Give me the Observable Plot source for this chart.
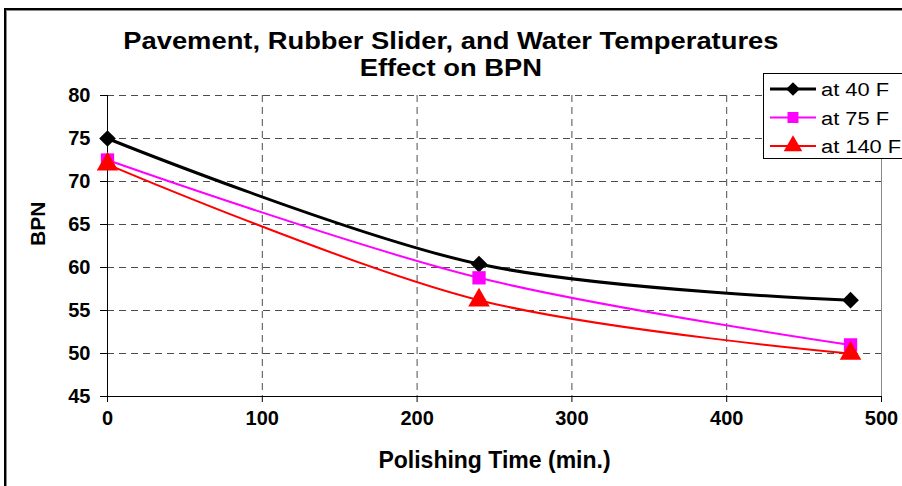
<!DOCTYPE html>
<html>
<head>
<meta charset="utf-8">
<script src="https://cdn.jsdelivr.net/npm/d3@7"></script>
<script src="https://cdn.jsdelivr.net/npm/@observablehq/plot@0.6"></script>
<style>
  body { margin: 0; background: #fff; font-family: "Liberation Sans", Arial, sans-serif; }
  #wrap { position: relative; width: 902px; height: 486px; overflow: hidden; background: #fff; }
  #frame { position: absolute; left: 4px; top: 8px; width: 1000px; height: 600px; border-left: 2px solid #000; border-top: 2px solid #000; box-shadow: inset 1px 1px 0 #888; }
  #title { position: absolute; left: 0; width: 902px; top: 27px; text-align: center; font-weight: bold; font-size: 24px; line-height: 27px; color: #000; transform: scaleX(1.14); transform-origin: 452px 0; }
  #chart { position: absolute; left: 0; top: 0; }
  #legend { position: absolute; left: 763px; top: 73px; width: 160px; height: 84px; border: 1px solid #000; background: #fff; }
  #chart g[aria-label="x-axis tick label"], #chart g[aria-label="y-axis tick label"] { font-size: 20px !important; font-weight: bold; font-family: "Liberation Sans", Arial, sans-serif; }
</style>
</head>
<body>
<div id="wrap">
  <div id="frame"></div>
  <div id="chart"></div>
  <div id="title">Pavement, Rubber Slider, and Water Temperatures<br>Effect on BPN</div>
  <div id="legend"></div>
</div>
<script>
const times = [0, 240, 480];
const seriesNames = ["at 40 F", "at 75 F", "at 140 F"];
const bpn40 = [75.0, 60.4, 56.2];
const bpn75 = [72.5, 58.8, 51.0];
const bpn140 = [72.0, 56.2, 50.0];
const xTicks = [0, 100, 200, 300, 400, 500];
const yTicks = [45, 50, 55, 60, 65, 70, 75, 80];

const colors = ["#000000", "#ff00ff", "#ff0000"];
const symbols = ["diamond2", "square", "triangle"];
const widths = [3, 2, 2];
const values = [bpn40, bpn75, bpn140];

const data = [];
seriesNames.forEach((s, i) => times.forEach((t, j) => data.push({series: s, time: t, bpn: values[i][j]})));

const font = {fontFamily: "Liberation Sans, Arial, sans-serif", fontWeight: "bold"};

const marks = [
  Plot.gridY(yTicks, {stroke: "#000", strokeOpacity: 0.7, strokeDasharray: "7,5"}),
  Plot.gridX(xTicks.filter(d => d > 0 && d < 500), {stroke: "#000", strokeOpacity: 0.7, strokeDasharray: "7,5"}),
  Plot.gridX([500], {stroke: "#888", strokeOpacity: 1}),
  Plot.ruleX([0], {stroke: "#000", strokeWidth: 1}),
  Plot.ruleY([45], {stroke: "#000", strokeWidth: 1}),
  Plot.axisY({ticks: yTicks, tickSize: 7, tickPadding: 10, fontSize: 20, ...font, label: null}),
  Plot.axisX({ticks: xTicks, tickSize: 6, tickPadding: 8, fontSize: 20, ...font, label: null})
];
seriesNames.forEach((s, i) => {
  const d = data.filter(r => r.series === s);
  marks.push(Plot.line(d, {x: "time", y: "bpn", stroke: colors[i], strokeWidth: widths[i], curve: "catmull-rom"}));
});
seriesNames.forEach((s, i) => {
  const d = data.filter(r => r.series === s);
  marks.push(Plot.dot(d, {x: "time", y: "bpn", fill: colors[i], stroke: "none", symbol: () => symbols[i], r: i === 2 ? 8 : 7.5}));
});
marks.push(Plot.text(["BPN"], {frameAnchor: "left", rotate: -90, dx: -69, fontSize: 21, ...font, fill: "#000"}));
marks.push(Plot.text(["Polishing Time (min.)"], {frameAnchor: "bottom", dy: 71, fontSize: 23, ...font, fill: "#000"}));

const chart = Plot.plot({
  width: 902,
  height: 486,
  marginLeft: 107,
  marginRight: 21,
  marginTop: 95,
  marginBottom: 90,
  style: {background: "transparent", color: "#000", overflow: "visible"},
  x: {domain: [0, 500]},
  y: {domain: [45, 80]},
  marks
});
document.getElementById("chart").appendChild(chart);

// legend
const leg = d3.select("#legend").append("svg").attr("width", 160).attr("height", 84);
seriesNames.forEach((s, i) => {
  const g = leg.append("g").attr("transform", `translate(0, ${15 + i * 28.5})`);
  g.append("line").attr("x1", 6).attr("x2", 52).attr("y1", 0).attr("y2", 0).attr("stroke", colors[i]).attr("stroke-width", widths[i]);
  const sym = [d3.symbolDiamond2, d3.symbolSquare, d3.symbolTriangle][i];
  g.append("path").attr("d", d3.symbol(sym, i === 2 ? 150 : 120)()).attr("transform", "translate(29,0)").attr("fill", colors[i]);
  g.append("text").attr("transform", "translate(57,7) scale(1.15,1)").attr("font-size", 19).attr("font-family", "Liberation Sans, Arial, sans-serif").text(s);
});
</script>
</body>
</html>
